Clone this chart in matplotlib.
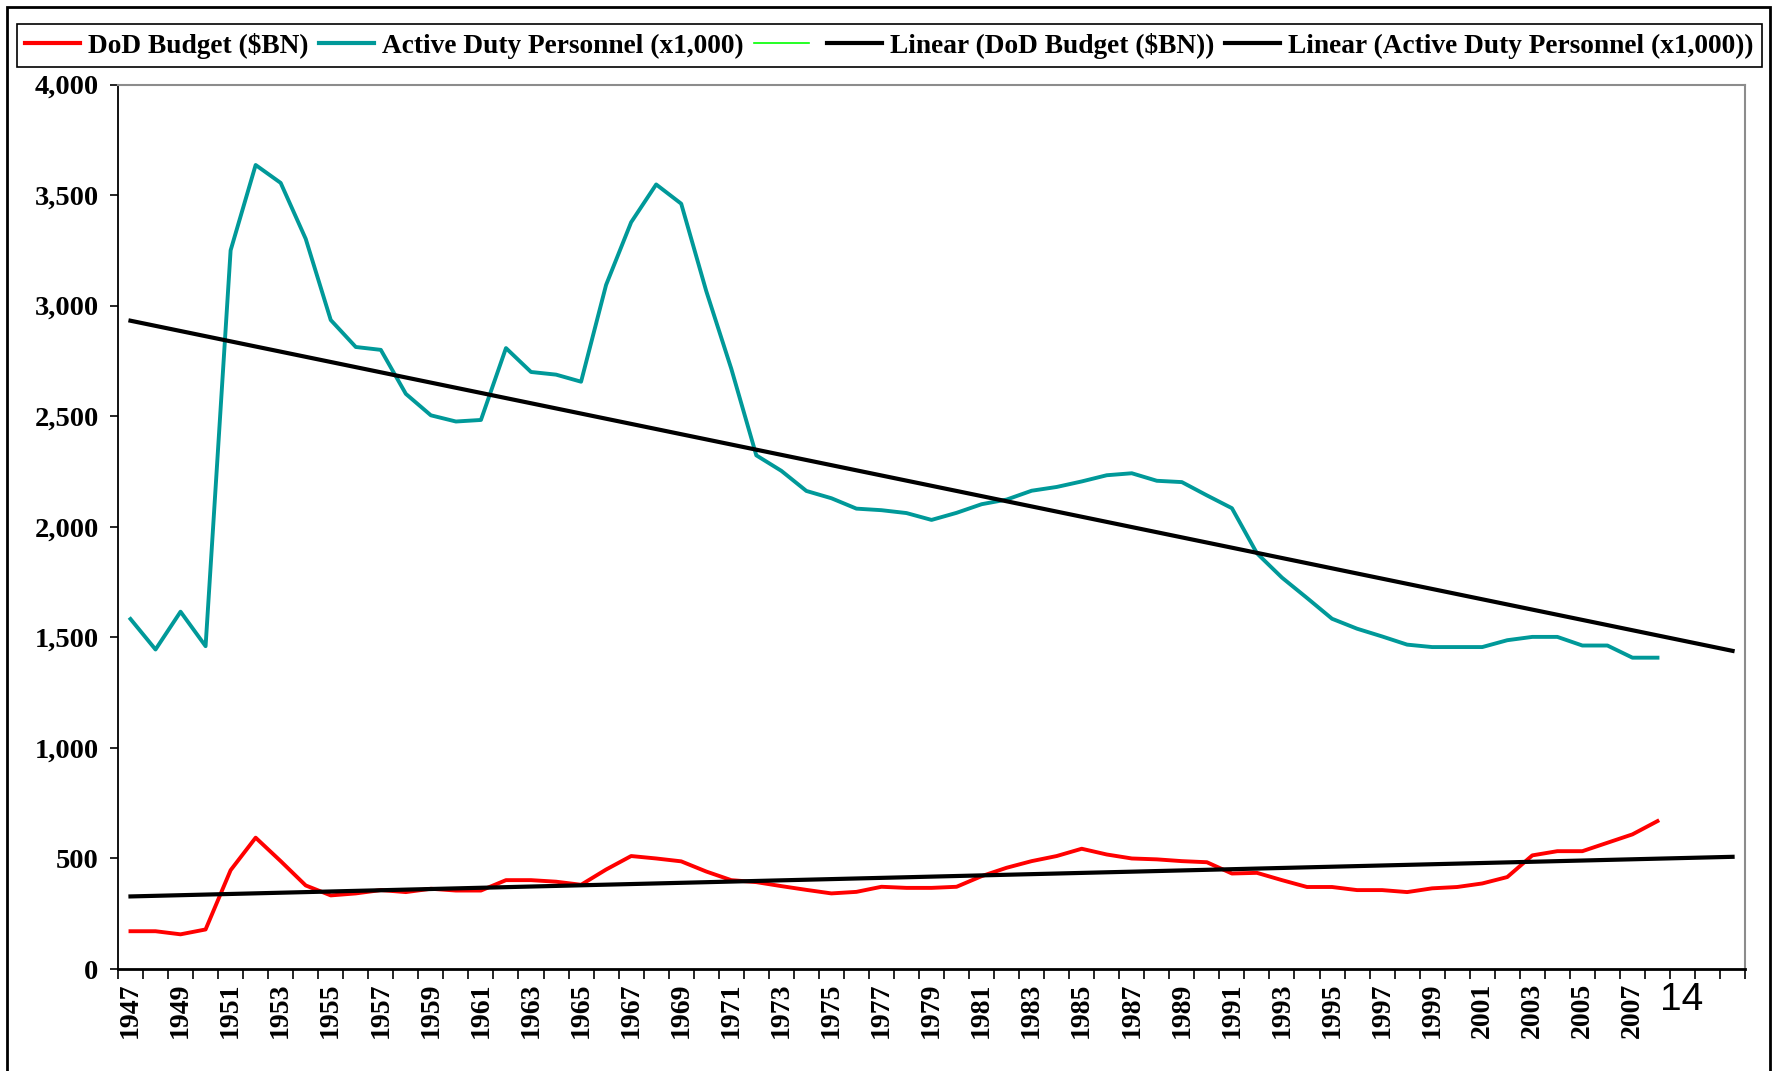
import numpy as np
import matplotlib
matplotlib.use("Agg")
import matplotlib.pyplot as plt
from matplotlib.lines import Line2D
from matplotlib.patches import Rectangle
from matplotlib.ticker import FuncFormatter

# categories on the axis (data stops in 2008, trends run on to 2011)
years = list(range(1947, 2012))

budget = [171, 171, 157, 179, 447, 594, 488, 378, 333, 342,
          357, 348, 363, 355, 355, 402, 402, 395, 381, 450,
          511, 500, 487, 441, 402, 393, 375, 358, 342, 349,
          372, 367, 367, 372, 420, 458, 488, 511, 544, 518,
          500, 496, 488, 483, 432, 435, 402, 371, 371, 357,
          357, 348, 365, 371, 387, 416, 514, 533, 533, 571,
          609, 669]

personnel = [1583, 1445, 1616, 1460, 3250, 3636, 3555, 3302, 2935, 2813,
             2800, 2601, 2504, 2476, 2483, 2808, 2700, 2688, 2656, 3094,
             3377, 3548, 3461, 3066, 2715, 2323, 2253, 2162, 2129, 2082,
             2075, 2062, 2031, 2063, 2102, 2123, 2163, 2180, 2205, 2233,
             2242, 2208, 2202, 2142, 2084, 1880, 1770, 1678, 1584, 1539,
             1504, 1467, 1456, 1456, 1456, 1487, 1502, 1502, 1463, 1463,
             1408, 1408]

legend_labels = ["DoD Budget ($BN)", "Active Duty Personnel (x1,000)", "",
                 "Linear (DoD Budget ($BN))",
                 "Linear (Active Duty Personnel (x1,000))"]
page_number = "14"

SERIF = ["Liberation Serif", "DejaVu Serif"]
plt.rcParams["font.family"] = SERIF
plt.rcParams["font.weight"] = "bold"

RED = "#ff0000"
TEAL = "#009999"
GREEN = "#00ff00"

fig = plt.figure(figsize=(17.74, 10.71), dpi=100)
ax = fig.add_axes([0.0665, 0.0952, 0.9172, 0.8259])

x_all = np.arange(len(years))
x_dat = x_all[:len(budget)]

ax.plot(x_dat, budget, color=RED, lw=2.8, zorder=3)
ax.plot(x_dat, personnel, color=TEAL, lw=2.8, zorder=3)

# linear trend lines, forecast through the end of the axis
p_b = np.polyfit(x_dat, budget, 1)
p_p = np.polyfit(x_dat, personnel, 1)
ax.plot(x_all, np.polyval(p_b, x_all), color="black", lw=3.0, zorder=4)
ax.plot(x_all, np.polyval(p_p, x_all), color="black", lw=3.0, zorder=4)

ax.set_xlim(-0.5, len(years) - 0.5)
ax.set_ylim(0, 4000)

ax.set_yticks(np.arange(0, 4001, 500))
ax.yaxis.set_major_formatter(FuncFormatter(lambda v, _: f"{int(v):,}"))
ax.tick_params(axis="y", direction="out", length=6, width=1.2, labelsize=20.5, pad=8)

# tick marks between categories, labels on every other year
ax.set_xticks(np.arange(-0.5, len(years), 1.0))
ax.tick_params(axis="x", which="major", direction="out", length=7.5, width=1.2,
               labelbottom=False)
lab_idx = [i for i in x_all if i % 2 == 0 and years[i] <= 2007]
ax.set_xticks(lab_idx, minor=True)
ax.set_xticklabels([str(years[i]) for i in lab_idx], minor=True,
                   rotation=90, fontsize=20, fontweight="bold")
ax.tick_params(axis="x", which="minor", length=0, pad=10)

for s in ("top", "right"):
    ax.spines[s].set_color("#8c8c8c")
    ax.spines[s].set_linewidth(1.5)
ax.spines["left"].set_linewidth(1.3)
ax.spines["bottom"].set_linewidth(2.0)

handles = [Line2D([], [], color=RED, lw=3.0),
           Line2D([], [], color=TEAL, lw=3.0),
           Line2D([], [], color=GREEN, lw=1.2),
           Line2D([], [], color="black", lw=3.0),
           Line2D([], [], color="black", lw=3.0)]
leg = fig.legend(handles, legend_labels, loc="center",
                 bbox_to_anchor=(0.0094, 0.9368, 0.9837, 0.0414),
                 mode="expand", ncol=5, fancybox=False, framealpha=1,
                 edgecolor="black", borderaxespad=0, borderpad=0.3,
                 handlelength=2.0, handletextpad=0.3, columnspacing=0.4,
                 prop={"family": SERIF, "weight": "bold", "size": 19.7})
leg.get_frame().set_linewidth(1.2)

fig.text(1682 / 1774, 1 - 1000 / 1071, page_number, fontsize=28,
         family=["Liberation Sans Narrow", "Liberation Sans", "DejaVu Sans"],
         fontweight="normal", ha="center", va="center")

# outer slide frame
fig.add_artist(Rectangle((7 / 1774, -0.1), (1770 - 7) / 1774, 1.1 - 7 / 1071,
                         transform=fig.transFigure, fill=False,
                         edgecolor="black", lw=2))

fig.savefig("out.png", dpi=100)
